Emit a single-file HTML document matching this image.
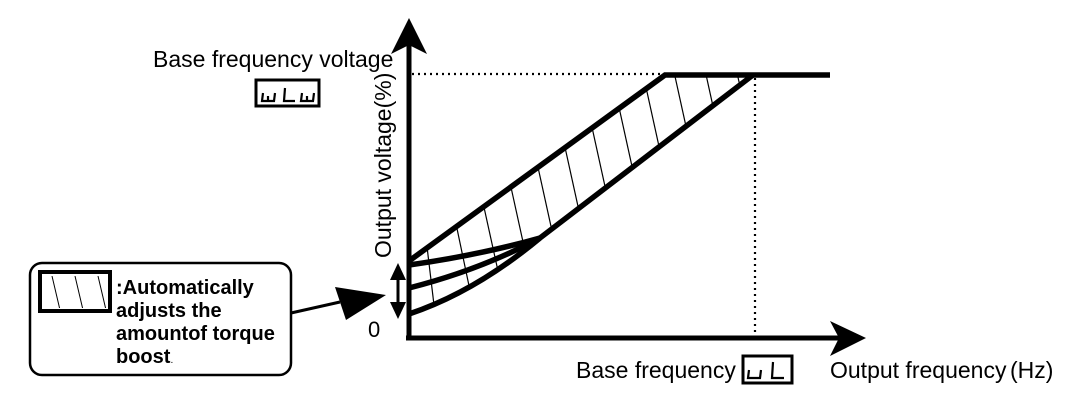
<!DOCTYPE html>
<html><head><meta charset="utf-8"><style>
html,body{margin:0;padding:0;background:#fff;}
svg{display:block;}
text{font-family:"Liberation Sans",Arial,sans-serif;fill:#000;}
</style></head><body>
<svg width="1077" height="415" viewBox="0 0 1077 415" xmlns="http://www.w3.org/2000/svg">
<defs>
<clipPath id="reg"><path d="M409,260 L665,75 L753,75 L540,238 Q475,292 409,314 Z"/></clipPath>
<clipPath id="icon"><rect x="44" y="276" width="64" height="32"/></clipPath>
</defs>
<g clip-path="url(#reg)" stroke="#000" stroke-width="1.2">
<line x1="400" y1="230" x2="412" y2="330"/>
<line x1="425" y1="230" x2="437" y2="330"/>
<line x1="451" y1="200" x2="472" y2="300"/>
<line x1="478" y1="180" x2="500" y2="280"/>
<line x1="505" y1="160" x2="527" y2="260"/>
<line x1="532" y1="140" x2="554" y2="240"/>
<line x1="559" y1="120" x2="581" y2="220"/>
<line x1="586" y1="100" x2="608" y2="200"/>
<line x1="613" y1="80" x2="635" y2="180"/>
<line x1="640" y1="60" x2="662" y2="160"/>
<line x1="667" y1="40" x2="689" y2="140"/>
<line x1="694" y1="20" x2="716" y2="120"/>
<line x1="721" y1="0" x2="743" y2="100"/>
</g>
<line x1="412" y1="74" x2="665" y2="74" stroke="#000" stroke-width="2.2" stroke-dasharray="2,4"/>
<line x1="755" y1="78" x2="755" y2="336" stroke="#000" stroke-width="2.2" stroke-dasharray="2,4"/>
<g fill="none" stroke="#000" stroke-width="5.5" stroke-linejoin="miter">
<polyline points="409,261 665,75 830,75"/>
<path d="M409,314 Q475,292 540,238 L753,75"/>
<path d="M409,265 Q480,255 540,238"/>
<path d="M409,288 Q480,270 540,238"/>
</g>
<line x1="409" y1="40" x2="409" y2="340" stroke="#000" stroke-width="5"/>
<polygon points="409,18 391,54 409,45 427,54" fill="#000"/>
<line x1="406" y1="338" x2="840" y2="338" stroke="#000" stroke-width="5"/>
<polygon points="866,338 830,321 839,338 830,356" fill="#000"/>
<line x1="398" y1="272" x2="398" y2="310" stroke="#000" stroke-width="3"/>
<polygon points="398,263 390,280 406,280" fill="#000"/>
<polygon points="398,319 390,302 406,302" fill="#000"/>
<rect x="30" y="263" width="261" height="112" rx="12" fill="none" stroke="#000" stroke-width="2.5"/>
<rect x="40" y="272" width="70" height="39" fill="none" stroke="#000" stroke-width="4"/>
<g clip-path="url(#icon)" stroke="#000" stroke-width="1">
<line x1="52" y1="276" x2="60" y2="310"/>
<line x1="75" y1="276" x2="83" y2="310"/>
<line x1="98" y1="276" x2="106" y2="310"/>
</g>
<line x1="291" y1="313" x2="340" y2="302" stroke="#000" stroke-width="3"/>
<polygon points="386,295 335,287 346,320" fill="#000"/>
<text x="116" y="294" font-size="20" font-weight="bold">:Automatically</text>
<text x="116" y="317" font-size="20" font-weight="bold">adjusts the</text>
<text x="116" y="340" font-size="20" font-weight="bold">amountof torque</text>
<text x="116" y="363" font-size="20" font-weight="bold">boost<tspan font-size="10" font-weight="normal">.</tspan></text>
<text x="368" y="337" font-size="22">0</text>
<text x="153" y="67" font-size="23">Base frequency voltage</text>
<rect x="256" y="80" width="63" height="26" fill="none" stroke="#000" stroke-width="3"/>
<g fill="none" stroke="#000" stroke-width="2.2">
<path d="M263,93 L262,101 L274,101 L275,93"/>
<path d="M268,101 L268,96"/>
<path d="M285,88 L284,101 L295,101"/>
<path d="M302,93 L301,101 L313,101 L314,93"/>
<path d="M307,101 L307,96"/>
<path d="M749,370 L748,378 L760,378 L761,370"/>
<path d="M773,362 L772,378 L784,378"/>
</g>
<text transform="translate(391,258) rotate(-90)" font-size="23">Output voltage(%)</text>
<text x="576" y="378" font-size="23">Base frequency</text>
<rect x="743" y="356" width="49" height="27" fill="none" stroke="#000" stroke-width="3"/>
<text x="830" y="378" font-size="23">Output frequency</text>
<text x="1010" y="378" font-size="23">(Hz)</text>
</svg>
</body></html>
